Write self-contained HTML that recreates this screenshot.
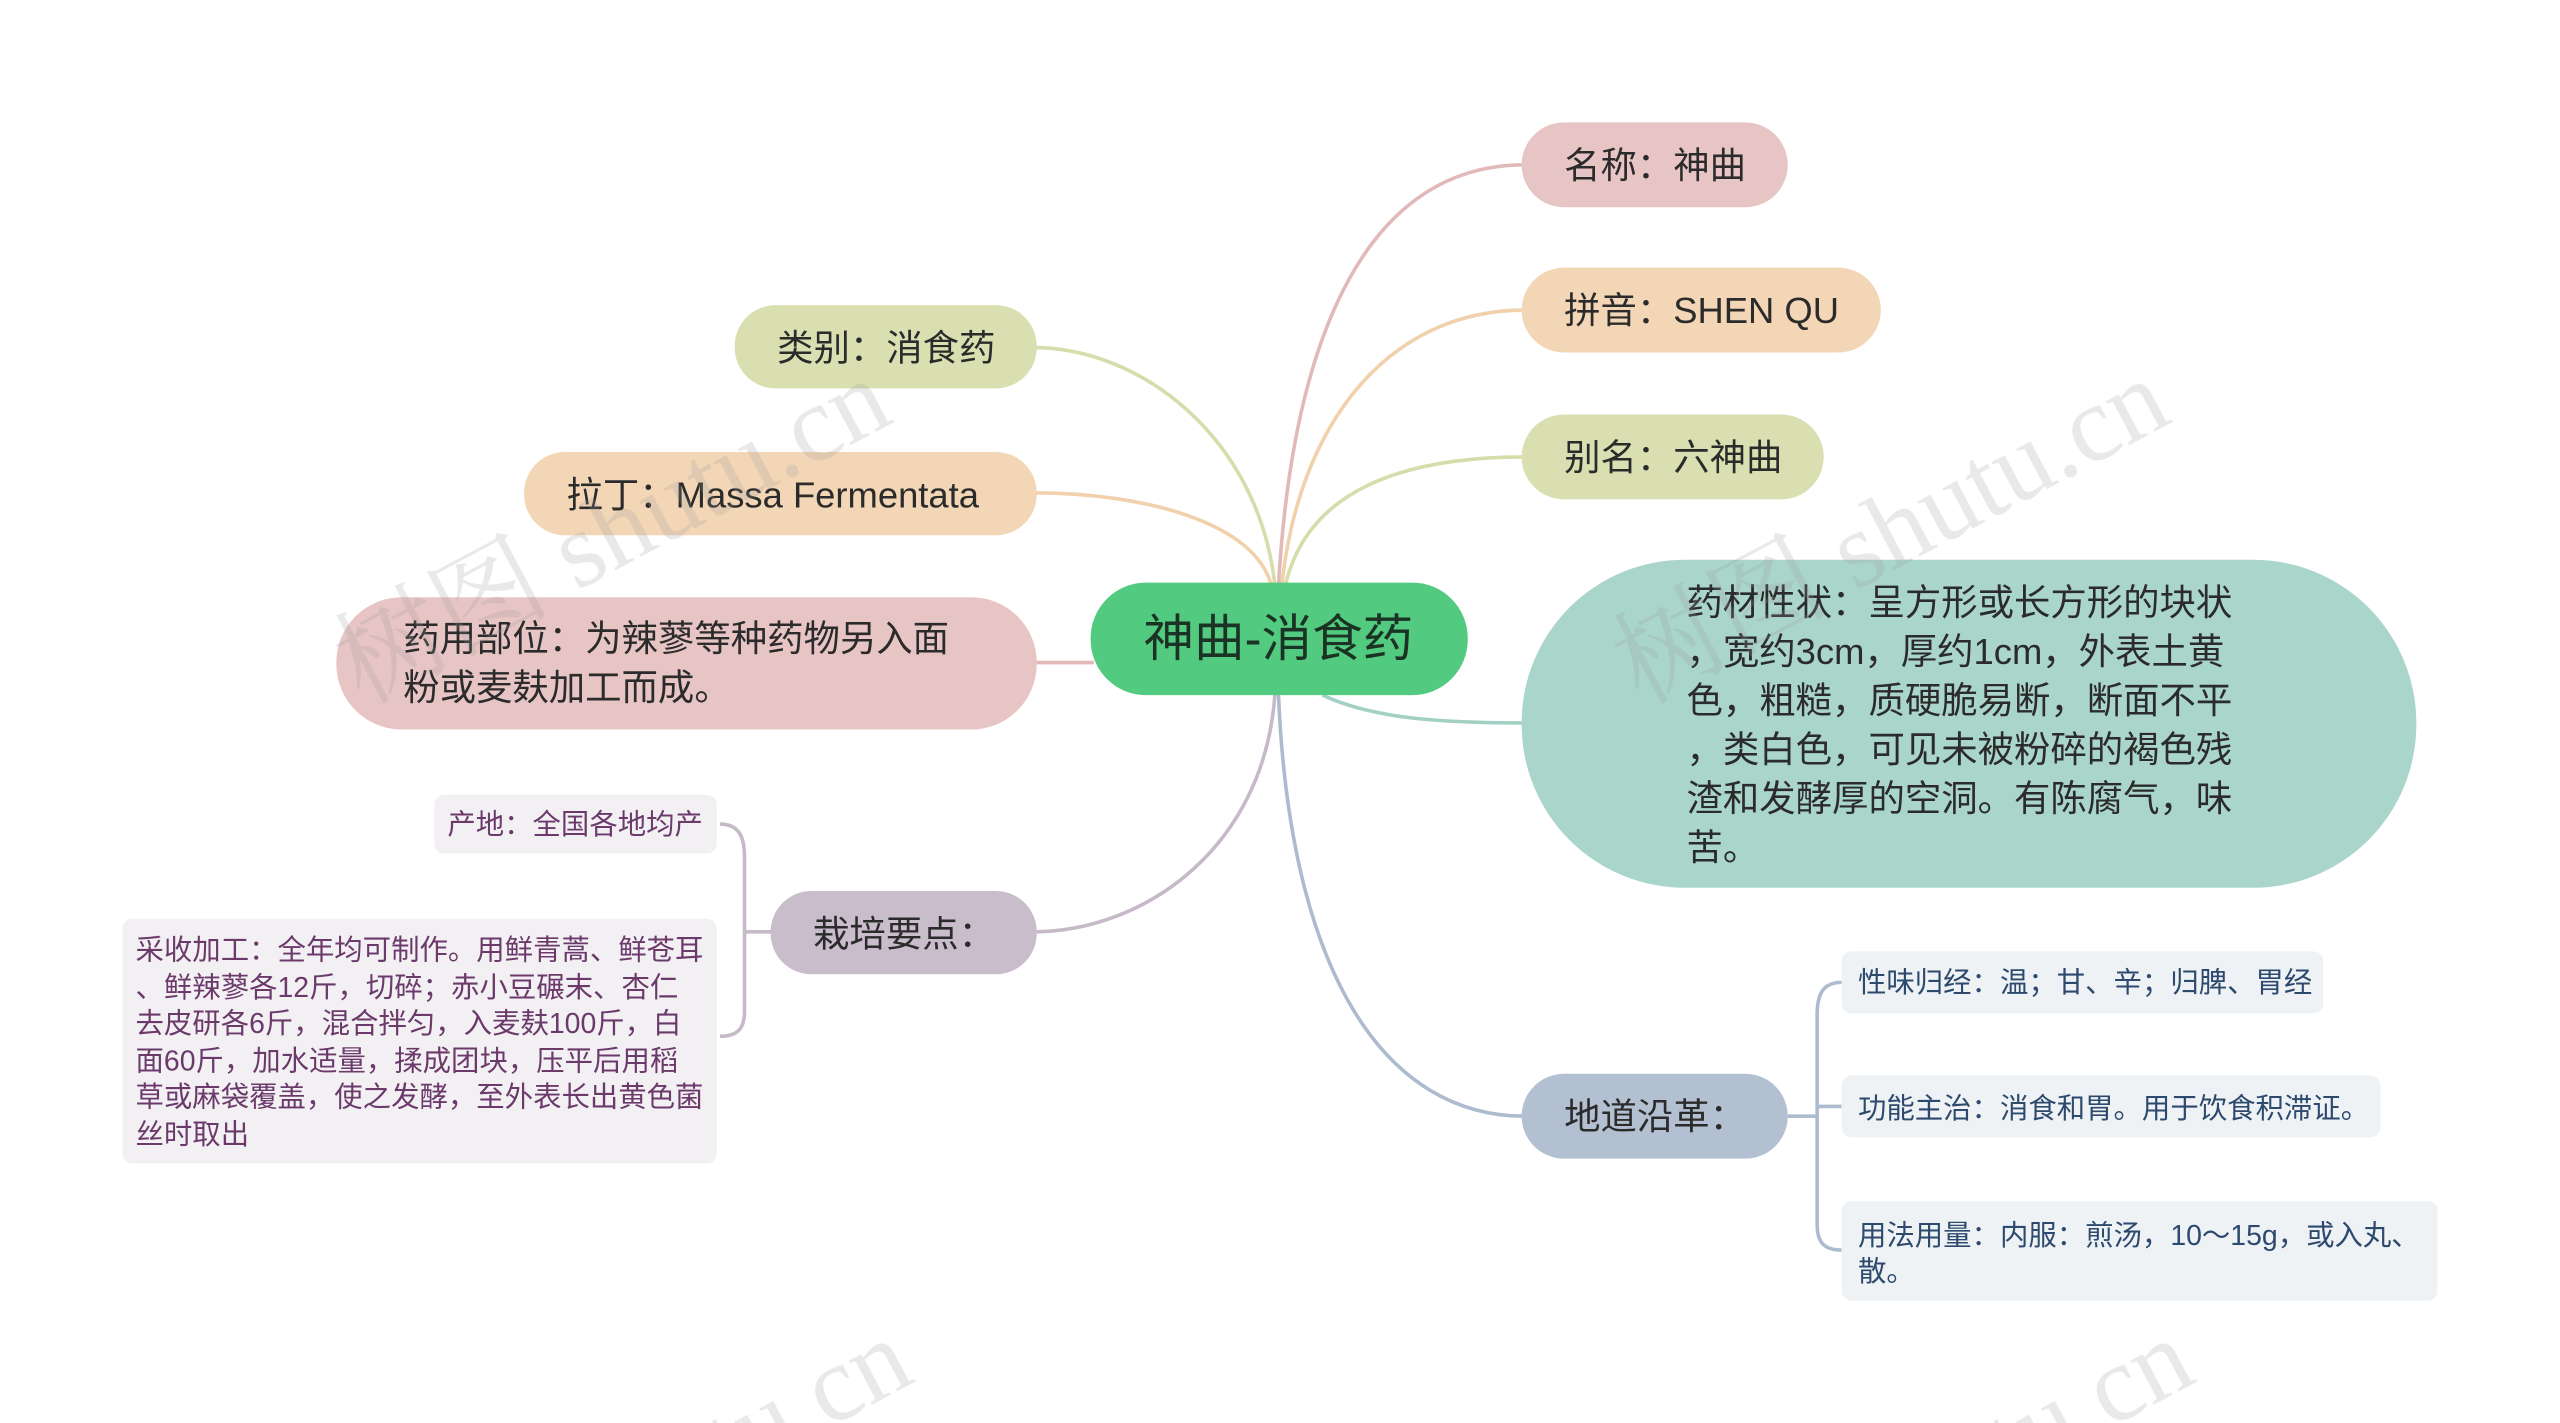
<!DOCTYPE html>
<html><head><meta charset="utf-8"><style>
html,body{margin:0;padding:0;background:#fff;width:2560px;height:1423px;overflow:hidden}
svg{display:block;overflow:hidden}
text{font-family:"Liberation Sans","Noto Sans CJK SC",sans-serif}
text.wm{font-family:"Liberation Serif","Noto Serif CJK SC",serif}
</style></head><body>
<svg width="2560" height="1423" viewBox="0 0 1568 872" preserveAspectRatio="none" xmlns="http://www.w3.org/2000/svg">
<g fill="none" stroke-width="2.2">
<path d="M783,360 C792,200 840,101 934,101" stroke="#e2b9b9"/>
<path d="M785,360 C795,260 850,190 934,190" stroke="#f1d0ac"/>
<path d="M787,360 C800,300 860,280 934,280" stroke="#d6dcaa"/>
<path d="M810,426 C840,440 880,443 934,443" stroke="#a3d0c4"/>
<path d="M783,424 C790,600 850,684 934,684" stroke="#adbbcf"/>
<path d="M781,360 C772,270 700,213 633,213" stroke="#d6dcaa"/>
<path d="M779,360 C770,320 700,302 633,302" stroke="#f1d0ac"/>
<path d="M670,406 L633,406" stroke="#e2b9b9"/>
<path d="M781,424 C775,520 700,571 633,571" stroke="#c6b9c8"/>
<path d="M474,571 L456,571 M441,505 C452,505 456,512 456,525 L456,620 C456,630 452,635 441,635" stroke="#c6b9c8"/>
<path d="M1095,684 L1113,684 M1128,602 C1116,602 1113,610 1113,622 L1113,750 C1113,760 1116,766 1128,766 M1113,678 L1128,678" stroke="#adbbcf"/>
</g>
<rect x="668" y="357" width="231" height="69" rx="34" fill="#52cb80"/>
<text x="783" y="402" font-size="31" text-anchor="middle" fill="#1b3324">神曲-消食药</text>

<g font-size="22.3" fill="#2b2b2b">
<rect x="932" y="75" width="163" height="52" rx="26" fill="#e8c5c5"/>
<text x="958" y="109">名称：神曲</text>
<rect x="932" y="164" width="220" height="52" rx="26" fill="#f3d6b6"/>
<text x="958" y="198">拼音：SHEN QU</text>
<rect x="932" y="254" width="185" height="52" rx="26" fill="#d9dfb1"/>
<text x="958" y="288">别名：六神曲</text>
<rect x="932" y="343" width="548" height="201" rx="100" fill="#a9d5ca"/>
<text x="1033" y="377">药材性状：呈方形或长方形的块状</text>
<text x="1033" y="407">，宽约3cm，厚约1cm，外表土黄</text>
<text x="1033" y="437">色，粗糙，质硬脆易断，断面不平</text>
<text x="1033" y="467">，类白色，可见未被粉碎的褐色残</text>
<text x="1033" y="497">渣和发酵厚的空洞。有陈腐气，味</text>
<text x="1033" y="527">苦。</text>
<rect x="932" y="658" width="163" height="52" rx="26" fill="#b3c0d2"/>
<text x="958" y="692">地道沿革：</text>
<rect x="450" y="187" width="185" height="51" rx="25" fill="#d9dfb1"/>
<text x="476" y="221">类别：消食药</text>
<rect x="321" y="277" width="314" height="51" rx="25" fill="#f3d6b6"/>
<text x="347" y="311">拉丁：Massa Fermentata</text>
<rect x="206" y="366" width="429" height="81" rx="40" fill="#e8c5c5"/>
<text x="247" y="399">药用部位：为辣蓼等种药物另入面</text>
<text x="247" y="429">粉或麦麸加工而成。</text>
<rect x="472" y="546" width="163" height="51" rx="25" fill="#c9bdcc"/>
<text x="498" y="580">栽培要点：</text>
</g>
<g font-size="17.4" fill="#2d4a6e">
<rect x="1128" y="583" width="295" height="38" rx="6" fill="#eef2f5"/>
<text x="1138" y="608">性味归经：温；甘、辛；归脾、胃经</text>
<rect x="1128" y="659" width="330" height="38" rx="6" fill="#eef2f5"/>
<text x="1138" y="685">功能主治：消食和胃。用于饮食积滞证。</text>
<rect x="1128" y="736" width="365" height="61" rx="6" fill="#eef2f5"/>
<text x="1138" y="763">用法用量：内服：煎汤，10～15g，或入丸、</text>
<text x="1138" y="785">散。</text>
</g>
<g font-size="17.4" fill="#6b3a6b">
<rect x="266" y="487" width="173" height="36" rx="6" fill="#f3f0f4"/>
<text x="274" y="511">产地：全国各地均产</text>
<rect x="75" y="563" width="364" height="150" rx="6" fill="#f3f0f4"/>
<text x="83" y="588">采收加工：全年均可制作。用鲜青蒿、鲜苍耳</text>
<text x="83" y="611">、鲜辣蓼各12斤，切碎；赤小豆碾末、杏仁</text>
<text x="83" y="633">去皮研各6斤，混合拌匀，入麦麸100斤，白</text>
<text x="83" y="656">面60斤，加水适量，揉成团块，压平后用稻</text>
<text x="83" y="678">草或麻袋覆盖，使之发酵，至外表长出黄色菌</text>
<text x="83" y="701">丝时取出</text>
</g>
<g font-size="66" fill="#999" opacity="0.22">
<text class="wm" transform="translate(222,432) rotate(-28)">树图 shutu.cn</text>
<text class="wm" transform="translate(1005,432) rotate(-28)">树图 shutu.cn</text>
<text class="wm" transform="translate(235,1020) rotate(-28)">树图 shutu.cn</text>
<text class="wm" transform="translate(1020,1020) rotate(-28)">树图 shutu.cn</text>
</g>
</svg>
</body></html>
